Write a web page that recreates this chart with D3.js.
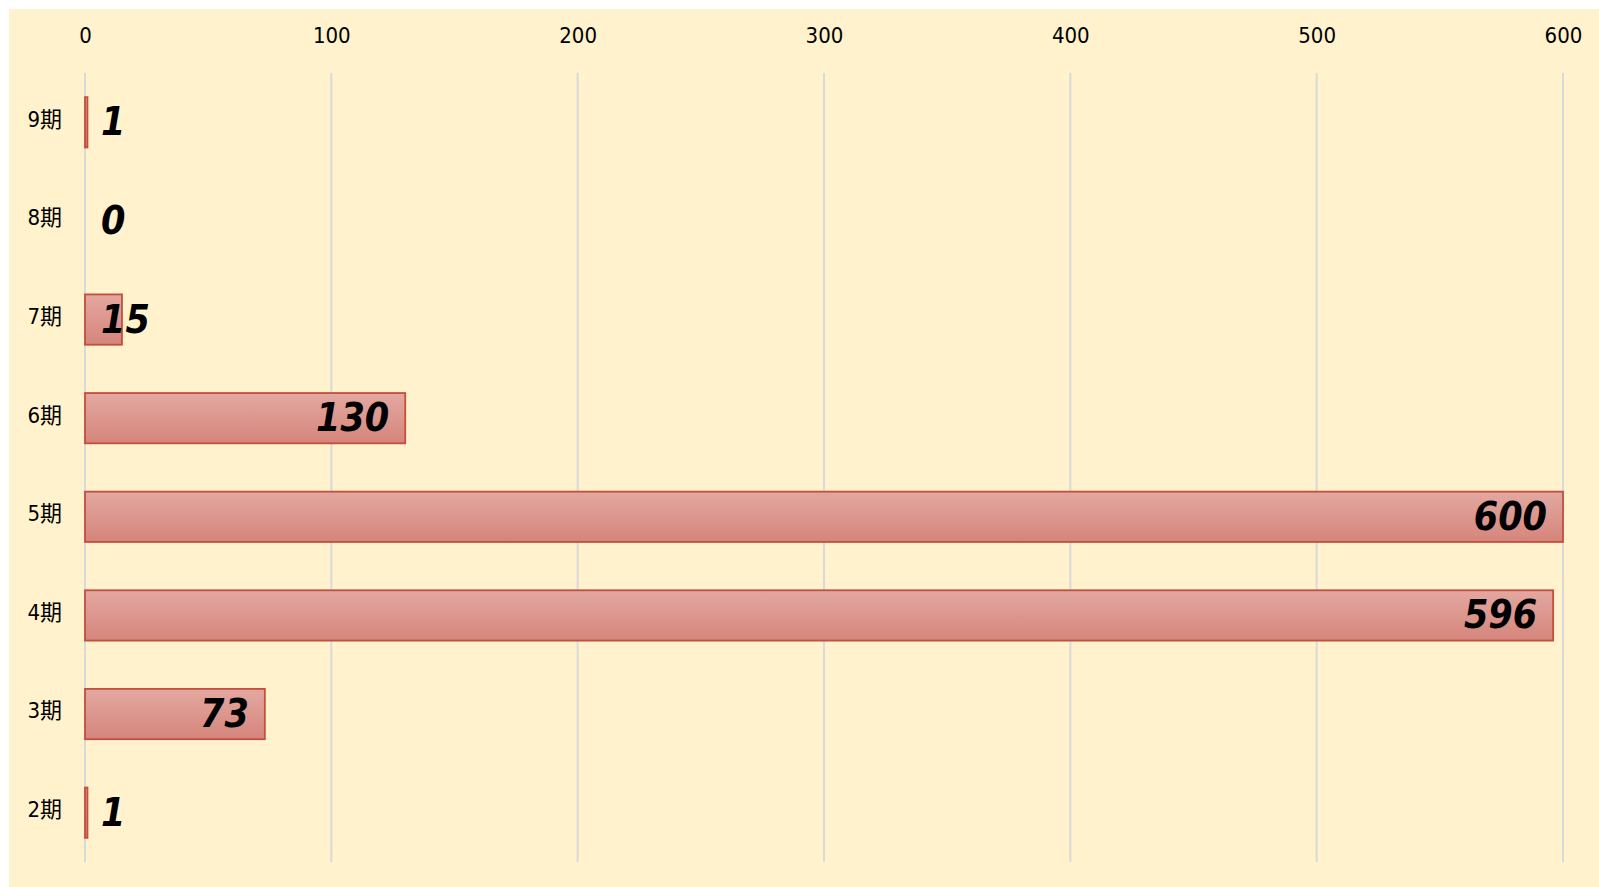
<!DOCTYPE html>
<html>
<head>
<meta charset="utf-8">
<script src="https://cdn.jsdelivr.net/npm/d3@7"></script>
<style>
    html, body { margin: 0; padding: 0; background: #fff; }
    svg { display: block; }
    text { font-family: "DejaVu Sans", sans-serif; font-stretch: condensed; }
</style>
</head>
<body>
<svg id="chart" width="1599" height="887"></svg>
<script>
const categories = ['9期', '8期', '7期', '6期', '5期', '4期', '3期', '2期']
const values = [1, 0, 15, 130, 600, 596, 73, 1]
const tickValues = [0, 100, 200, 300, 400, 500, 600]

const svg = d3.select('#chart')
const width = +svg.attr('width')
const height = +svg.attr('height')

svg.append('rect')
    .attr('x', 9).attr('y', 9)
    .attr('width', width - 9).attr('height', height - 9)
    .attr('fill', '#fff2cc')

const defs = svg.append('defs')
const grad = defs.append('linearGradient')
    .attr('id', 'barGrad')
    .attr('x1', 0).attr('y1', 0).attr('x2', 0).attr('y2', 1)
grad.append('stop').attr('offset', '0%').attr('stop-color', '#e3a8a1')
grad.append('stop').attr('offset', '100%').attr('stop-color', '#d5857b')

const x = d3.scaleLinear().domain([0, 600]).range([85, 1563])
const y = d3.scaleBand().domain(categories).range([73, 862])
    .paddingInner(0.49).paddingOuter(0.245)

// gridlines
svg.append('g')
    .selectAll('line')
    .data(tickValues)
    .enter().append('line')
    .attr('x1', d => x(d)).attr('x2', d => x(d))
    .attr('y1', 73).attr('y2', 862)
    .attr('stroke', '#d9d9d9')
    .attr('stroke-width', 2)

// top axis labels
const xAxis = d3.axisTop(x).tickValues(tickValues).tickSize(0).tickPadding(0)
const gx = svg.append('g').attr('transform', 'translate(0,43)').call(xAxis)
gx.select('.domain').remove()
gx.selectAll('text')
    .attr('font-size', 22)
    .attr('fill', '#000')
    .style('font-family', '"DejaVu Sans", sans-serif')

// category labels
const yAxis = d3.axisLeft(y).tickSize(0).tickPadding(0)
const gy = svg.append('g').attr('transform', 'translate(62,0)').call(yAxis)
gy.select('.domain').remove()
gy.selectAll('text')
    .attr('font-size', 22)
    .attr('fill', '#000')
    .attr('dy', '0.2em')
    .style('font-family', '"DejaVu Sans", "Noto Sans CJK JP", sans-serif')

// bars
svg.append('g')
    .selectAll('rect')
    .data(values.map((v, i) => ({ cat: categories[i], value: v })).filter(d => d.value > 0))
    .enter().append('rect')
    .attr('x', x(0))
    .attr('y', d => y(d.cat))
    .attr('width', d => x(d.value) - x(0))
    .attr('height', y.bandwidth())
    .attr('fill', 'url(#barGrad)')
    .attr('stroke', '#c24e3e')
    .attr('stroke-width', 1.8)

// value labels
const labels = svg.append('g')
    .selectAll('text')
    .data(values.map((v, i) => ({ cat: categories[i], value: v })))
    .enter().append('text')
    .attr('y', d => y(d.cat) + y.bandwidth() / 2 + 13)
    .attr('font-size', 39)
    .attr('font-weight', 'bold')
    .attr('font-style', 'italic')
    .attr('fill', '#000')
    .text(d => d.value)

labels.each(function (d) {
    const w = this.getComputedTextLength()
    const endX = x(d.value) - 16
    const t = d3.select(this)
    if (endX - w < x(0) + 17) {
        t.attr('x', x(0) + 16).attr('text-anchor', 'start')
    } else {
        t.attr('x', endX).attr('text-anchor', 'end')
    }
})
</script>
</body>
</html>
